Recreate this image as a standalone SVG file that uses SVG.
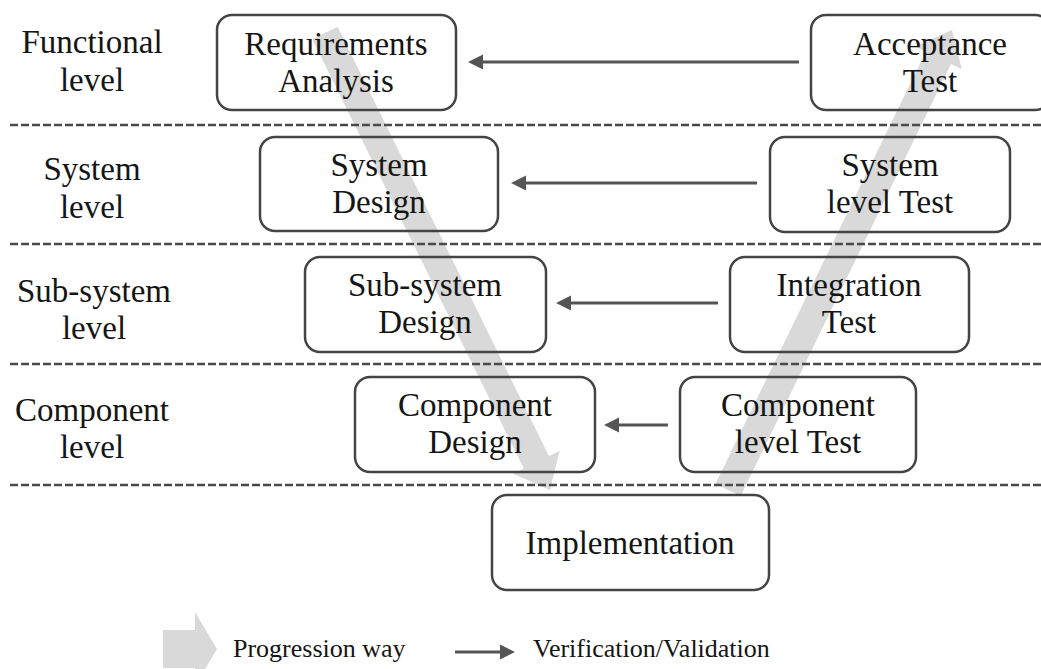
<svg xmlns="http://www.w3.org/2000/svg" width="1041" height="669" viewBox="0 0 1041 669">
  <style>
    .lvl { fill: none; stroke: #4a4a4a; stroke-width: 2.5; stroke-dasharray: 8 3; }
    .box { fill: none; stroke: #444; stroke-width: 2.5; }
    .t { font-family: "Liberation Serif", "Times New Roman", serif; font-size: 33px; fill: #151515; text-anchor: middle; }
    .lg { font-family: "Liberation Serif", "Times New Roman", serif; font-size: 26px; fill: #151515; }
    .vv { fill: none; stroke: #555; stroke-width: 3; marker-end: url(#head); }
    .prog { fill: #d9d9d9; stroke: none; }
  </style>
  <defs>
    <marker id="head" viewBox="0 0 16 16" markerUnits="userSpaceOnUse" markerWidth="16" markerHeight="16" refX="5" refY="8" orient="auto">
      <path d="M0,0.5 L15,8 L0,15.5 z" fill="#555"/>
    </marker>
  </defs>

  <!-- progression way (V shape), drawn beneath everything -->
  <g id="progression">
    <polygon class="prog" points="337.6,26.8 548.9,456.0 559.6,450.7 550,490 513.0,473.7 523.8,468.4 312.4,39.2"/>
    <polygon class="prog" points="740.6,496.1 951.0,64.0 961.8,69.3 952,30 915.1,46.5 925.8,51.7 715.4,483.9"/>
  </g>

  <!-- level separators -->
  <g id="levels">
    <line class="lvl" x1="10" y1="125" x2="1041" y2="125"/>
    <line class="lvl" x1="10" y1="244" x2="1041" y2="244"/>
    <line class="lvl" x1="10" y1="364" x2="1041" y2="364"/>
    <line class="lvl" x1="10" y1="485" x2="1041" y2="485"/>
  </g>

  <!-- level labels -->
  <g id="level-labels">
    <text class="t" x="92" y="53">Functional</text>
    <text class="t" x="92" y="91">level</text>
    <text class="t" x="92" y="180">System</text>
    <text class="t" x="92" y="218">level</text>
    <text class="t" x="94" y="302">Sub-system</text>
    <text class="t" x="94" y="339">level</text>
    <text class="t" x="92" y="421">Component</text>
    <text class="t" x="92" y="458">level</text>
  </g>

  <!-- verification / validation connectors -->
  <g id="connectors">
    <line class="vv" x1="799" y1="62" x2="478" y2="62"/>
    <line class="vv" x1="757" y1="183" x2="521" y2="183"/>
    <line class="vv" x1="718" y1="303" x2="566" y2="303"/>
    <line class="vv" x1="668" y1="425" x2="614" y2="425"/>
  </g>

  <!-- design side -->
  <g id="requirements-analysis">
    <rect class="box" x="217" y="15" width="239" height="95" rx="15"/>
    <text class="t" x="336" y="55">Requirements</text>
    <text class="t" x="336" y="92">Analysis</text>
  </g>
  <g id="system-design">
    <rect class="box" x="260" y="137" width="238" height="94" rx="15"/>
    <text class="t" x="379" y="176">System</text>
    <text class="t" x="379" y="213">Design</text>
  </g>
  <g id="subsystem-design">
    <rect class="box" x="305" y="257" width="241" height="95" rx="15"/>
    <text class="t" x="425" y="296">Sub-system</text>
    <text class="t" x="425" y="333">Design</text>
  </g>
  <g id="component-design">
    <rect class="box" x="355" y="377" width="240" height="95" rx="15"/>
    <text class="t" x="475" y="416">Component</text>
    <text class="t" x="475" y="453">Design</text>
  </g>

  <!-- test side -->
  <g id="acceptance-test">
    <rect class="box" x="811" y="15" width="239" height="95" rx="15"/>
    <text class="t" x="930" y="55">Acceptance</text>
    <text class="t" x="930" y="92">Test</text>
  </g>
  <g id="system-level-test">
    <rect class="box" x="770" y="137" width="240" height="95" rx="15"/>
    <text class="t" x="890" y="176">System</text>
    <text class="t" x="890" y="213">level Test</text>
  </g>
  <g id="integration-test">
    <rect class="box" x="730" y="257" width="239" height="95" rx="15"/>
    <text class="t" x="849" y="296">Integration</text>
    <text class="t" x="849" y="333">Test</text>
  </g>
  <g id="component-level-test">
    <rect class="box" x="680" y="377" width="236" height="95" rx="15"/>
    <text class="t" x="798" y="416">Component</text>
    <text class="t" x="798" y="453">level Test</text>
  </g>

  <g id="implementation">
    <rect class="box" x="492" y="495" width="277" height="95" rx="15"/>
    <text class="t" x="630" y="554">Implementation</text>
  </g>

  <!-- legend -->
  <g id="legend">
    <polygon class="prog" points="163,630 195,630 195,612 217,649 195,686 195,668 163,668"/>
    <text class="lg" x="233" y="657">Progression way</text>
    <line class="vv" x1="455" y1="652" x2="505" y2="652"/>
    <text class="lg" x="533" y="657">Verification/Validation</text>
  </g>
</svg>
